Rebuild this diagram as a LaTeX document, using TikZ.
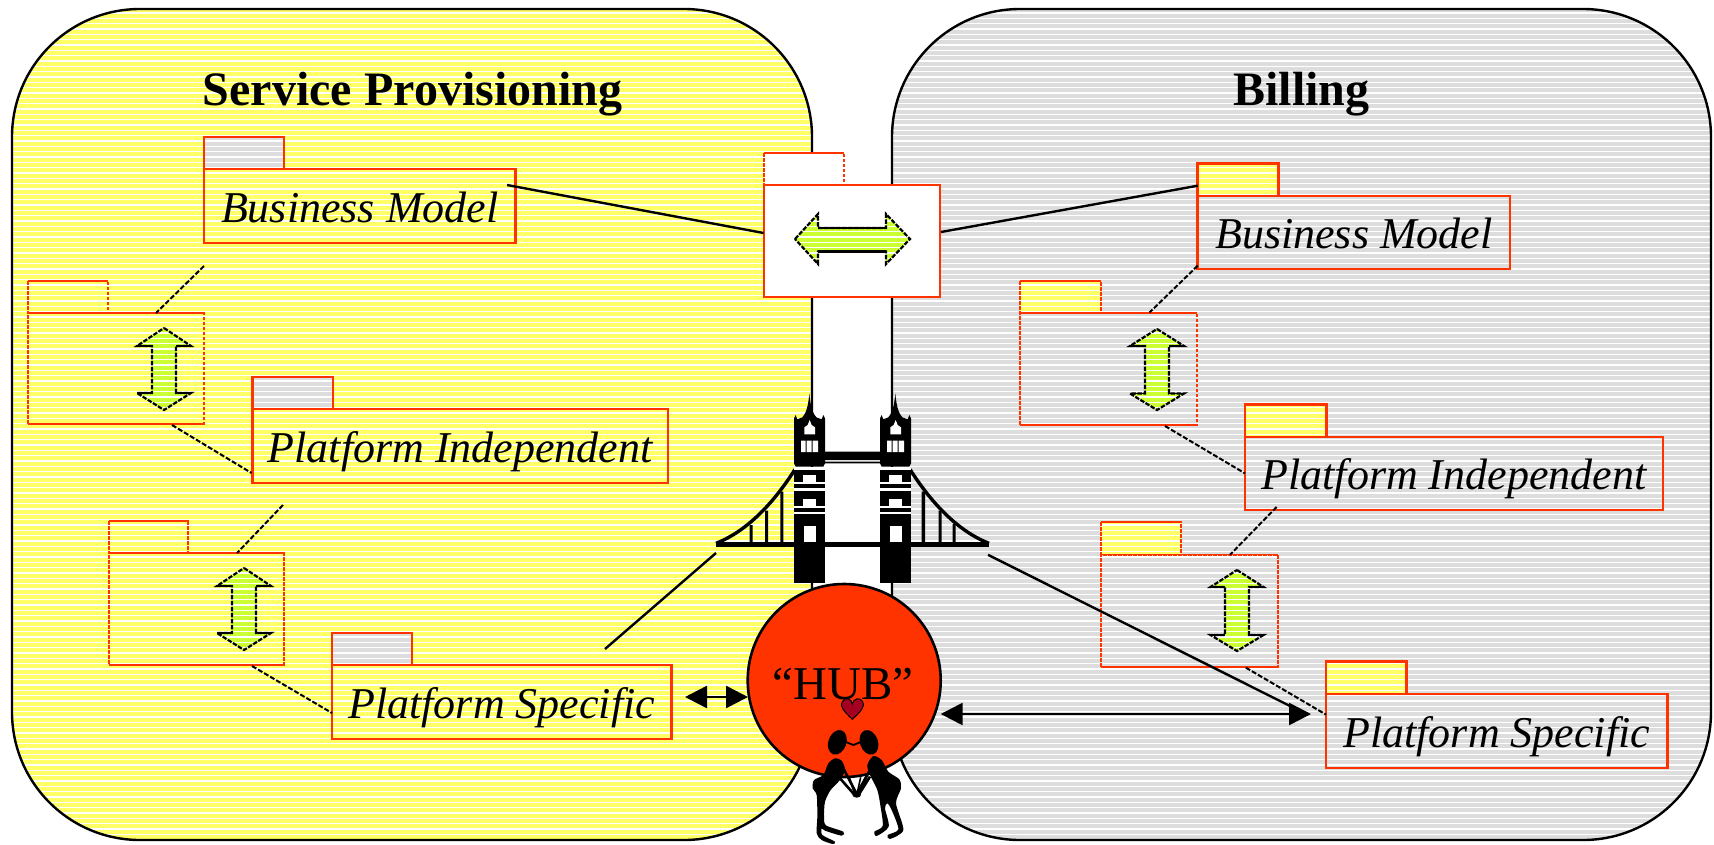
\documentclass[tikz,border=0pt]{standalone}
\usepackage{fontspec}
\setmainfont{Liberation Serif}
\usetikzlibrary{arrows.meta}
\definecolor{panelyellow}{HTML}{FFFF66}
\definecolor{panelgray}{HTML}{DDDDDD}
\definecolor{pkgred}{HTML}{FF3300}
\definecolor{arrowgreen}{HTML}{CCFF33}
\definecolor{heartred}{HTML}{A50021}
\tikzset{
  panel/.style={draw=black,line width=2.4pt,rounded corners=128pt},
  title/.style={font=\fontsize{48}{54}\selectfont\bfseries,inner sep=0pt,anchor=base},
  pkgbody/.style={draw=pkgred,line width=2.6pt,inner sep=0pt,outer sep=0pt,rectangle,
     font=\fontsize{44}{50}\selectfont\itshape,text height=42pt,text depth=10pt,anchor=north west},
  emptybody/.style={draw=pkgred,line width=2pt,dash pattern=on 3.5pt off 1.5pt,inner sep=0pt,outer sep=0pt,rectangle,anchor=north west},
  redrule/.style={draw=pkgred,line width=1.6pt},
  dashlink/.style={draw=black,line width=2pt,dash pattern=on 5pt off 2pt},
  solidlink/.style={draw=black,line width=2.4pt},
  hubarrow/.style={draw=black,line width=2.6pt,{Triangle[length=22pt,width=22pt]}-{Triangle[length=22pt,width=22pt]}},
  greenedge/.style={draw=black,line width=2.2pt,dash pattern=on 4.5pt off 1.5pt},
  greenbar/.style={draw=black,line width=2.2pt},
  bk/.style={fill=black,draw=none},
  wh/.style={fill=white,draw=none}
}
\newcommand{\hatchlines}{\draw[white,line width=1.25pt] \foreach \hy in {13,18.333,...,842}{(0,\hy) -- (1714,\hy)};}
% \tabbox{x0}{x1}{ytop}{ybot}{colour}{edge}
\newcommand{\hatchbox}[5]{%
  \fill[#5] (#1,#3) rectangle (#2,#4);
  \begin{scope}\clip (#1,#3) rectangle (#2,#4);\hatchlines\end{scope}}
% solid package: name,x0,x1,ytab,ytop,ybot,tabright,tabcolour,text
\newcommand{\solidpkg}[9]{%
  \hatchbox{#2}{#7}{#4}{#5}{#8}
  \draw[draw=pkgred,line width=2.6pt] (#2,#4) rectangle (#7,#5);
  \pgfmathsetmacro{\pw}{#3-#2}\pgfmathsetmacro{\ph}{#6-#5}
  \node[pkgbody,minimum width=\pw pt,minimum height=\ph pt] (#1) at (#2,#5) {#9};}
% empty dashed package: name,x0,x1,ytab,ytop,ybot,tabright,tabcolour(or none)
\newcommand{\emptypkg}[8]{%
  \ifx#8\relax\else\hatchbox{#2}{#7}{#4}{#5}{#8}\fi
  \pgfmathsetmacro{\pw}{#3-#2}\pgfmathsetmacro{\ph}{#6-#5}
  \draw[emptybody] (#2,#4) rectangle (#7,#5);
  \draw[redrule] (#2,#4) -- (#7,#4);
  \node[emptybody,minimum width=\pw pt,minimum height=\ph pt] (#1) at (#2,#5) {};
  \draw[redrule] (#2,#5) -- (#3,#5) (#2,#6) -- (#3,#6);}
% vertical arrow: cx,top,bot,h1,h2,halfhead,halfshaft
\newcommand{\vgreen}[7]{%
  \def\vpath{(#1,#2) -- ({#1+#6},#4) -- ({#1+#7},#4) -- ({#1+#7},#5) -- ({#1+#6},#5) -- (#1,#3) -- ({#1-#6},#5) -- ({#1-#7},#5) -- ({#1-#7},#4) -- ({#1-#6},#4) -- cycle}
  \fill[arrowgreen] \vpath;
  \begin{scope}\clip \vpath;\hatchlines\end{scope}
  \draw[greenedge] \vpath;
  \draw[greenbar,line width=1.4pt] ({#1-#6},#4) -- ({#1-#7},#4) ({#1+#6},#4) -- ({#1+#7},#4) ({#1-#6},#5) -- ({#1-#7},#5) ({#1+#6},#5) -- ({#1+#7},#5);}
% tower in zoom coordinates
\newcommand{\tower}[1]{%
 \begin{scope}[shift={(#1,0)}]
  \fill[bk] (0,115) -- (5,105) -- (10,118) -- (25,112) .. controls (35,100) and (42,85) .. (46,40) .. controls (50,85) and (57,100) .. (67,112) -- (83,118) -- (88,105) -- (93,115) -- (93,250) -- (88,260) -- (5,260) -- (0,250) -- cycle;
  \fill[wh] (31,163) -- (31,142) -- (41,135) -- (47,120) -- (53,135) -- (63,142) -- (63,163) -- cycle;
  \fill[wh] (21,182) rectangle (35,216) (38,182) rectangle (53,216) (56,182) rectangle (72,216);
  \fill[wh] (0,260) rectangle (93,270);
  \fill[bk] (0,270) rectangle (93,305);
  \fill[wh] (28,285) rectangle (66,305);
  \fill[wh] (0,305) rectangle (93,313);
  \fill[bk] (0,313) rectangle (93,323);
  \fill[wh] (0,323) rectangle (93,333);
  \fill[bk] (0,333) rectangle (93,377);
  \fill[wh] (28,358) rectangle (66,377);
  \fill[wh] (0,377) rectangle (93,385);
  \fill[bk] (0,385) rectangle (93,395);
  \fill[wh] (0,395) rectangle (93,403);
  \fill[bk] (0,403) rectangle (93,608);
  \fill[wh] (30,438) rectangle (66,487);
 \end{scope}}
\begin{document}
\begin{tikzpicture}[x=1pt,y=-1pt]
\useasboundingbox (0,0) rectangle (1714,844);
\fill[white] (0,0) rectangle (1714,844);
% panels
\fill[panelyellow,rounded corners=128pt] (12,9) rectangle (812,840);
\begin{scope}\clip[rounded corners=128pt] (12,9) rectangle (812,840);\hatchlines\end{scope}
\draw[panel] (12,9) rectangle (812,840);
\fill[panelgray,rounded corners=128pt] (892,9) rectangle (1711,840);
\begin{scope}\clip[rounded corners=128pt] (892,9) rectangle (1711,840);\hatchlines\end{scope}
\draw[panel] (892,9) rectangle (1711,840);
\node[title] (titleL) at (412.5,105) {Service Provisioning};
\node[title] (titleR) at (1301.5,105.5) {Billing};
% left packages
\solidpkg{bmL}{204}{515.5}{137}{169}{243}{284}{panelgray}{Business Model}
\emptypkg{modelL}{28}{204}{281}{313}{424}{108}{\relax}
\vgreen{164}{328}{410}{346}{393}{27}{12}
\solidpkg{piL}{252.5}{668}{377}{409}{483}{333}{panelgray}{Platform Independent}
\emptypkg{indepL}{108.5}{284}{521}{553}{665}{188}{\relax}
\vgreen{244}{568}{650}{586}{633}{27}{12}
\solidpkg{psL}{332}{671.5}{633}{665}{739}{412}{panelgray}{Platform Specific}
% right packages
\solidpkg{bmR}{1197.7}{1510}{163.5}{196}{269}{1278.7}{panelyellow}{Business Model}
\emptypkg{modelR}{1020}{1197.4}{281}{313}{425}{1100.7}{panelyellow}
\vgreen{1157}{329}{410}{346}{393.5}{27}{12}
\solidpkg{piR}{1245}{1662.8}{404.5}{437}{510}{1326.5}{panelyellow}{Platform Independent}
\emptypkg{indepR}{1100.7}{1277.6}{522}{554.5}{666.8}{1181.3}{panelyellow}
\vgreen{1237}{570}{651}{587}{635}{26.5}{12}
\solidpkg{psR}{1326}{1667.5}{661.5}{694}{768}{1406.6}{panelyellow}{Platform Specific}
% link end points
\coordinate (a1) at (204,266); \coordinate (a2) at (156,313);
\coordinate (b1) at (172,425); \coordinate (b2) at (251.5,473);
\coordinate (c1) at (283,505); \coordinate (c2) at (237,553);
\coordinate (d1) at (252,666); \coordinate (d2) at (332,713);
\coordinate (e1) at (1197.7,265.7); \coordinate (e2) at (1149.5,312.5);
\coordinate (f1) at (1165,426); \coordinate (f2) at (1245,473.4);
\coordinate (g1) at (1276.6,507); \coordinate (g2) at (1230,554.8);
\coordinate (h1) at (1245.8,667.6); \coordinate (h2) at (1326,714.6);
\draw[dashlink] (a1) -- (a2); \draw[dashlink] (b1) -- (b2);
\draw[dashlink] (c1) -- (c2); \draw[dashlink] (d1) -- (d2);
\draw[dashlink] (e1) -- (e2); \draw[dashlink] (f1) -- (f2);
\draw[dashlink] (g1) -- (g2); \draw[dashlink] (h1) -- (h2);
% centre package
\fill[white] (764,153) rectangle (844.3,185);
\emptypkg{mapC}{764}{940}{153}{185}{296.7}{844.3}{\relax}
\fill[white] (765,186) rectangle (939,296);
\draw[emptybody] (764,185) rectangle (940,296.7);
\draw[redrule] (764,185) -- (940,185) (764,296.7) -- (940,296.7);
\def\cpath{(795,239) -- (818,214) -- (818,228) -- (886,228) -- (886,214) -- (910,239) -- (886,264) -- (886,251.5) -- (818,251.5) -- (818,264) -- cycle}
\fill[arrowgreen] \cpath;
\begin{scope}\clip \cpath;\hatchlines\end{scope}
\draw[greenedge] \cpath;
\draw[greenbar] (818,228) -- (886,228) (818,251.5) -- (886,251.5);
% centre links
\coordinate (m1) at (507,185); \coordinate (m2) at (763.6,233);
\coordinate (m3) at (941,232); \coordinate (m4) at (1197.7,185.7);
\draw[solidlink] (m1) -- (m2); \draw[solidlink] (m3) -- (m4);
% hub links
\coordinate (n1) at (605,649); \coordinate (n2) at (716,553);
\coordinate (n3) at (988,554.8); \coordinate (n4) at (1306,714);
\draw[solidlink] (n1) -- (n2); \draw[solidlink] (n3) -- (n4);
% bridge
\begin{scope}[shift={(680,380)},x=0.33333pt,y=-0.33333pt]
 \fill[bk] (430,215) rectangle (605,240) (430,245) rectangle (605,250);
 \draw[black,line width=3.4pt] (345,268) .. controls (290,355) and (210,450) .. (108,490);
 \draw[black,line width=3.4pt] (690,268) .. controls (745,355) and (825,450) .. (927,490);
 \fill[bk] (209,435) rectangle (218,490) (255,392) rectangle (264,490) (301,335) rectangle (310,490);
 \fill[bk] (725,335) rectangle (735,490) (776,392) rectangle (785,490) (818,432) rectangle (827,490);
 \tower{342}
 \tower{600}
 \fill[bk] (108,487) rectangle (927,502);
\end{scope}
% hub
\node[circle,draw=black,fill=pkgred,line width=2.6pt,minimum size=193pt,inner sep=0pt] (hub) at (844.2,680.5) {};
\node[font=\fontsize{47}{54}\selectfont,inner sep=0pt,anchor=base] (hubtext) at (843,699) {“HUB”};
\begin{scope}[shift={(680,380)},x=0.33333pt,y=-0.33333pt]
 \filldraw[fill=heartred,draw=black,line width=1pt] (517,1018) .. controls (490,992) and (478,978) .. (487,965) .. controls (497,950) and (514,955) .. (517,972) .. controls (520,955) and (540,950) .. (548,965) .. controls (556,978) and (545,992) .. (517,1018) -- cycle;
\end{scope}
% figures
\begin{scope}[shift={(790,720)},x=0.33333pt,y=-0.33333pt]
 \fill[bk,rotate around={-20:(142,67)}] (142,67) ellipse [x radius=27,y radius=38];
 \fill[bk,rotate around={20:(237,67)}] (237,67) ellipse [x radius=27,y radius=38];
 \draw[black,line width=1.8pt] (165,65) -- (190,75) -- (215,65);
 \fill[bk] plot[smooth cycle,tension=0.45] coordinates {(135,115) (155,122) (165,150) (150,180) (122,210) (105,245) (102,290) (108,316) (160,335) (155,347) (105,332) (95,325) (97,345) (135,365) (128,372) (95,360) (80,340) (82,290) (80,225) (68,205) (72,180) (100,165) (115,130)};
 \fill[bk] plot[smooth cycle,tension=0.45] coordinates {(250,108) (275,120) (295,155) (328,178) (333,205) (318,250) (340,330) (300,357) (293,345) (325,328) (305,270) (292,250) (285,265) (296,320) (260,348) (253,335) (278,318) (272,262) (262,210) (240,165) (232,135)};
 \draw[black,line width=2.6pt] (160,145) -- (200,222) (150,175) -- (195,226) (240,150) -- (200,222) (240,170) -- (205,226);
 \draw[black,line width=1.6pt] (178,172) -- (195,226) (212,172) -- (200,226);
 \fill[bk] (200,224) ellipse [x radius=13,y radius=9];
\end{scope}
% double arrows
\coordinate (p1) at (685,697); \coordinate (p2) at (748,697);
\coordinate (q1) at (940.7,714); \coordinate (q2) at (1311,714);
\draw[hubarrow] (p1) -- (p2);
\draw[hubarrow] (q1) -- (q2);
\end{tikzpicture}
\end{document}
